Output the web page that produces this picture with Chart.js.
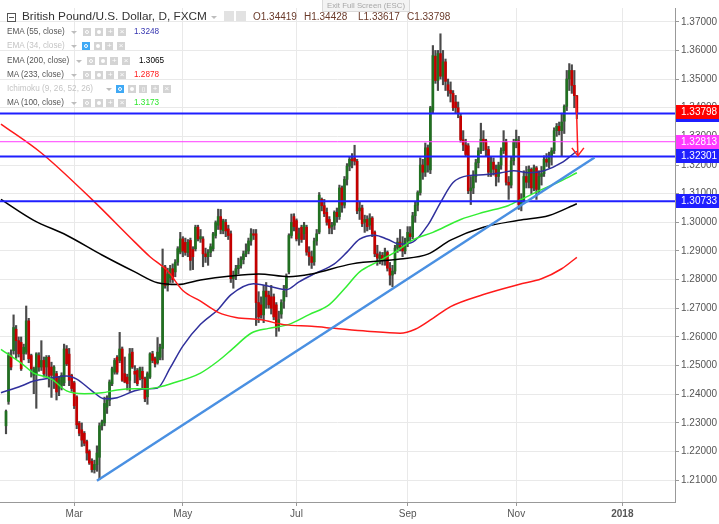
<!DOCTYPE html>
<html>
<head>
<meta charset="utf-8">
<script src="https://cdn.jsdelivr.net/npm/chart.js@4.4.0/dist/chart.umd.min.js"></script>
<style>
  html, body { margin: 0; padding: 0; background: #fff; }
  #wrap { position: relative; width: 719px; height: 524px; overflow: hidden;
          font-family: "Liberation Sans", Arial, sans-serif; }
  #chart { position: absolute; left: 0; top: 0; }
  .t { position: absolute; white-space: nowrap; line-height: 1; }
  .ic { position: absolute; width: 8px; height: 8px; background: #d4d4d4; color: #fff;
        font-size: 8px; line-height: 8px; text-align: center; }
  .ic.on { background: #3fa9f5; }
  .dd { position: absolute; width: 0; height: 0; border-left: 3px solid transparent;
        border-right: 3px solid transparent; border-top: 3px solid #bdbdbd; }
</style>
</head>
<body>
<div id="wrap">
  <canvas id="chart" width="719" height="524"></canvas>
  <div id="hdr"></div>
</div>
<script>
// daily candles, GBP/USD (index 0 = first bar at the left edge)
const opens = [
  1.2290,1.2375,1.2535,1.2552,1.2627,1.2587,1.2581,1.2541,1.2547,1.2656,
  1.2535,1.2466,1.2472,1.2535,1.2495,1.2518,1.2495,1.2529,1.2495,1.2466,
  1.2472,1.2420,1.2431,1.2440,1.2558,1.2540,1.2466,1.2440,1.2391,1.2299,
  1.2276,1.2264,1.2235,1.2201,1.2166,1.2137,1.2155,1.2180,1.2290,1.2300,
  1.2355,1.2379,1.2437,1.2477,1.2529,1.2518,1.2558,1.2472,1.2460,1.2449,
  1.2547,1.2480,1.2483,1.2460,1.2480,1.2454,1.2391,1.2460,1.2541,1.2524,
  1.2510,1.2529,1.2560,1.2844,1.2780,1.2806,1.2838,1.2827,1.2861,1.2896,
  1.2942,1.2930,1.2895,1.2937,1.2905,1.2908,1.2983,1.2942,1.2942,1.2890,
  1.2880,1.2895,1.2908,1.2954,1.2990,1.3020,1.2971,1.3000,1.2977,1.2960,
  1.2804,1.2815,1.2838,1.2850,1.2870,1.2890,1.2900,1.2935,1.2960,1.2960,
  1.2720,1.2712,1.2677,1.2760,1.2746,1.2740,1.2740,1.2712,1.2640,1.2680,
  1.2725,1.2770,1.2827,1.2954,1.3020,1.3006,1.2945,1.2983,1.2960,1.2983,
  1.2896,1.2880,1.2862,1.2935,1.2966,1.3080,1.3058,1.3035,1.3010,1.2985,
  1.2990,1.3035,1.3020,1.3120,1.3060,1.3150,1.3196,1.3220,1.3225,1.3213,
  1.3040,1.3050,1.3000,1.3010,1.2990,1.3015,1.2966,1.2890,1.2875,1.2885,
  1.2870,1.2895,1.2840,1.2816,1.2830,1.2910,1.2931,1.2915,1.2900,1.2935,
  1.2960,1.2950,1.3023,1.3060,1.3104,1.3200,1.3175,1.3260,1.3183,1.3391,
  1.3580,1.3495,1.3589,1.3510,1.3560,1.3480,1.3461,1.3450,1.3420,1.3400,
  1.3370,1.3288,1.3270,1.3267,1.3110,1.3120,1.3160,1.3208,1.3250,1.3290,
  1.3285,1.3254,1.3175,1.3210,1.3185,1.3160,1.3200,1.3250,1.3280,1.3140,
  1.3130,1.3215,1.3280,1.3284,1.3062,1.3080,1.3160,1.3140,1.3185,1.3120,
  1.3190,1.3115,1.3160,1.3170,1.3220,1.3210,1.3230,1.3250,1.3320,1.3335,
  1.3320,1.3353,1.3405,1.3500,1.3530,1.3478,1.34419
];
const highs = [
  1.2345,1.2545,1.2555,1.2677,1.2640,1.2600,1.2600,1.2575,1.2708,1.2665,
  1.2540,1.2495,1.2545,1.2545,1.2587,1.2530,1.2535,1.2535,1.2512,1.2500,
  1.2480,1.2460,1.2475,1.2575,1.2570,1.2560,1.2470,1.2445,1.2395,1.2305,
  1.2300,1.2270,1.2240,1.2206,1.2175,1.2170,1.2220,1.2300,1.2310,1.2390,
  1.2395,1.2450,1.2495,1.2525,1.2535,1.2616,1.2565,1.2530,1.2470,1.2560,
  1.2560,1.2500,1.2490,1.2495,1.2495,1.2460,1.2478,1.2545,1.2550,1.2530,
  1.2598,1.2575,1.2907,1.2850,1.2840,1.2850,1.2855,1.2870,1.2915,1.2965,
  1.2950,1.2945,1.2940,1.2945,1.2915,1.2990,1.2990,1.2975,1.2950,1.2910,
  1.2905,1.2925,1.2965,1.3005,1.3046,1.3045,1.3011,1.3010,1.2990,1.2970,
  1.2830,1.2850,1.2875,1.2880,1.2900,1.2925,1.2945,1.2978,1.2975,1.2975,
  1.2758,1.2740,1.2780,1.2790,1.2760,1.2780,1.2750,1.2720,1.2690,1.2730,
  1.2780,1.2820,1.2960,1.3029,1.3030,1.3012,1.2980,1.2990,1.3000,1.2990,
  1.2915,1.2900,1.2945,1.2975,1.3104,1.3085,1.3080,1.3050,1.3020,1.3000,
  1.3040,1.3050,1.3130,1.3127,1.3160,1.3205,1.3230,1.3240,1.3269,1.3220,
  1.3070,1.3060,1.3025,1.3023,1.3030,1.3020,1.2970,1.2920,1.2897,1.2895,
  1.2910,1.2900,1.2860,1.2850,1.2920,1.2945,1.2975,1.2950,1.2945,1.2985,
  1.2985,1.3035,1.3070,1.3110,1.3225,1.3220,1.3277,1.3270,1.3405,1.3617,
  1.3600,1.3600,1.3658,1.3600,1.3570,1.3500,1.3490,1.3460,1.3443,1.3420,
  1.3380,1.3320,1.3290,1.3275,1.3160,1.3180,1.3220,1.3260,1.3346,1.3320,
  1.3290,1.3265,1.3230,1.3225,1.3200,1.3210,1.3260,1.3320,1.3290,1.3160,
  1.3230,1.3290,1.3322,1.3300,1.3100,1.3180,1.3195,1.3197,1.3190,1.3200,
  1.3195,1.3180,1.3195,1.3232,1.3240,1.3245,1.3260,1.3330,1.3345,1.3350,
  1.3381,1.3410,1.3530,1.3554,1.3550,1.3530,1.34428
];
const lows = [
  1.2262,1.2365,1.2485,1.2540,1.2525,1.2530,1.2483,1.2520,1.2540,1.2510,
  1.2460,1.2402,1.2351,1.2480,1.2483,1.2460,1.2460,1.2425,1.2389,1.2420,
  1.2380,1.2395,1.2415,1.2430,1.2500,1.2430,1.2410,1.2350,1.2280,1.2255,
  1.2218,1.2220,1.2170,1.2155,1.2128,1.2125,1.2131,1.2103,1.2275,1.2290,
  1.2333,1.2360,1.2430,1.2470,1.2470,1.2510,1.2445,1.2440,1.2415,1.2410,
  1.2490,1.2440,1.2430,1.2450,1.2420,1.2374,1.2365,1.2455,1.2510,1.2495,
  1.2505,1.2520,1.2520,1.2770,1.2760,1.2790,1.2790,1.2810,1.2850,1.2890,
  1.2880,1.2885,1.2880,1.2833,1.2835,1.2900,1.2935,1.2930,1.2845,1.2860,
  1.2850,1.2880,1.2900,1.2945,1.2975,1.2960,1.2960,1.2950,1.2940,1.2790,
  1.2770,1.2800,1.2820,1.2840,1.2855,1.2880,1.2890,1.2920,1.2940,1.2640,
  1.2650,1.2665,1.2650,1.2700,1.2700,1.2680,1.2660,1.2602,1.2620,1.2665,
  1.2700,1.2740,1.2820,1.2945,1.2970,1.2935,1.2920,1.2930,1.2940,1.2885,
  1.2850,1.2839,1.2850,1.2920,1.2960,1.3040,1.3020,1.2990,1.2960,1.2960,
  1.2975,1.3000,1.3010,1.3035,1.3050,1.3130,1.3180,1.3190,1.3200,1.3030,
  1.3010,1.2985,1.2965,1.2970,1.2975,1.2950,1.2880,1.2850,1.2855,1.2851,
  1.2850,1.2830,1.2781,1.2775,1.2820,1.2895,1.2900,1.2880,1.2890,1.2915,
  1.2935,1.2943,1.3000,1.3040,1.3095,1.3150,1.3160,1.3175,1.3170,1.3380,
  1.3485,1.3460,1.3500,1.3480,1.3460,1.3440,1.3420,1.3390,1.3380,1.3365,
  1.3280,1.3250,1.3230,1.3100,1.3062,1.3100,1.3140,1.3190,1.3240,1.3250,
  1.3230,1.3160,1.3160,1.3165,1.3127,1.3140,1.3185,1.3240,1.3130,1.3080,
  1.3120,1.3200,1.3260,1.3045,1.3040,1.3070,1.3120,1.3120,1.3100,1.3110,
  1.3080,1.3100,1.3130,1.3160,1.3195,1.3190,1.3200,1.3240,1.3300,1.3305,
  1.3232,1.3310,1.3390,1.3460,1.3450,1.3400,1.33617
];
const closes = [
  1.2340,1.2535,1.2495,1.2633,1.2587,1.2541,1.2489,1.2564,1.2656,1.2524,
  1.2489,1.2489,1.2541,1.2495,1.2518,1.2472,1.2529,1.2466,1.2466,1.2495,
  1.2408,1.2449,1.2466,1.2558,1.2506,1.2449,1.2420,1.2360,1.2293,1.2264,
  1.2240,1.2229,1.2195,1.2160,1.2137,1.2155,1.2195,1.2290,1.2304,1.2368,
  1.2379,1.2443,1.2489,1.2518,1.2477,1.2558,1.2449,1.2443,1.2437,1.2541,
  1.2495,1.2470,1.2437,1.2489,1.2454,1.2385,1.2472,1.2541,1.2518,1.2506,
  1.2547,1.2564,1.2844,1.2780,1.2820,1.2838,1.2800,1.2861,1.2908,1.2942,
  1.2900,1.2895,1.2930,1.2867,1.2880,1.2983,1.2942,1.2950,1.2890,1.2880,
  1.2895,1.2915,1.2960,1.2999,1.3020,1.2975,1.3005,1.2970,1.2954,1.2804,
  1.2815,1.2838,1.2850,1.2870,1.2890,1.2900,1.2935,1.2960,1.2955,1.2720,
  1.2670,1.2677,1.2760,1.2740,1.2712,1.2700,1.2670,1.2631,1.2660,1.2720,
  1.2760,1.2810,1.2954,1.3000,1.2985,1.2942,1.2960,1.2940,1.2990,1.2896,
  1.2880,1.2860,1.2935,1.2960,1.3095,1.3058,1.3030,1.3000,1.2980,1.2990,
  1.3035,1.3020,1.3120,1.3060,1.3150,1.3196,1.3220,1.3215,1.3213,1.3040,
  1.3050,1.2995,1.3010,1.2985,1.3015,1.2960,1.2890,1.2875,1.2885,1.2870,
  1.2895,1.2840,1.2816,1.2830,1.2910,1.2931,1.2915,1.2900,1.2935,1.2965,
  1.2950,1.3023,1.3060,1.3104,1.3200,1.3175,1.3260,1.3200,1.3400,1.3582,
  1.3495,1.3589,1.3510,1.3560,1.3492,1.3461,1.3450,1.3400,1.3400,1.3381,
  1.3288,1.3270,1.3237,1.3110,1.3120,1.3160,1.3208,1.3250,1.3290,1.3280,
  1.3254,1.3175,1.3210,1.3185,1.3160,1.3200,1.3250,1.3280,1.3140,1.3130,
  1.3215,1.3280,1.3290,1.3062,1.3080,1.3160,1.3140,1.3185,1.3120,1.3190,
  1.3115,1.3160,1.3170,1.3220,1.3210,1.3230,1.3250,1.3320,1.3335,1.3320,
  1.3350,1.3405,1.3500,1.3530,1.3478,1.3442,1.33798
];

// time axis (bar index) and price axis
const xMin = -2.375, xMax = 264.85;
const monthIdx = [27, 70, 115, 159, 202, 244];
const monthLbl = ['Mar', 'May', 'Jul', 'Sep', 'Nov', '2018'];
const yMin = 1.2024, yMax = 1.3748;
const yTicks = [1.21, 1.22, 1.23, 1.24, 1.25, 1.26, 1.27, 1.28, 1.29,
                1.30, 1.31, 1.32, 1.33, 1.34, 1.35, 1.36, 1.37];

// indicator lines at sample bars
const ema55Idx = [-2, 6, 11, 18, 24, 28, 34, 39, 44, 51, 56, 60, 65, 70, 77, 84, 89, 98, 105, 111,
                  116, 122, 130, 135, 140, 146, 151, 156, 161, 167, 172, 177, 183, 189, 196, 201, 207, 213, 220, 225, 226];
const ema55Val = [1.2405, 1.2429, 1.2446, 1.2457, 1.2464, 1.2453, 1.2412, 1.2384, 1.2388, 1.2412, 1.2419, 1.2422,
                  1.2492, 1.2568, 1.2644, 1.2696, 1.2747, 1.2786, 1.2775, 1.2765, 1.2792, 1.2820, 1.2855, 1.2896,
                  1.2941, 1.2955, 1.2941, 1.2924, 1.2931, 1.2990, 1.3069, 1.3139, 1.3163, 1.3166, 1.3173, 1.3180,
                  1.3173, 1.3180, 1.3208, 1.3242, 1.3248];
const ema200Idx = [-2, 11, 24, 38, 51, 60, 68, 77, 89, 100, 112, 121, 137, 156, 167, 176, 189, 203, 215, 226];
const ema200Val = [1.3080, 1.3007, 1.2955, 1.2886, 1.2827, 1.2789, 1.2783, 1.2799, 1.2813, 1.2820, 1.2810, 1.2820,
                   1.2855, 1.2872, 1.2889, 1.2938, 1.2983, 1.3007, 1.3024, 1.3065];
const ma233Idx = [-2, 14, 34, 51, 57, 64, 70, 77, 84, 91, 101, 110, 121, 130, 143, 156, 162, 169, 176, 189, 203, 212, 220, 226];
const ma233Val = [1.3343, 1.3242, 1.3080, 1.2931, 1.2880, 1.2830, 1.2762, 1.2725, 1.2686, 1.2668, 1.2660, 1.2643,
                  1.2637, 1.2630, 1.2620, 1.2613, 1.2627, 1.2665, 1.2706, 1.2748, 1.2783, 1.2803, 1.2838, 1.2878];
const ma100Idx = [-2, 6, 11, 18, 24, 31, 38, 44, 51, 56, 61, 65, 77, 84, 90, 97, 104, 112, 120, 128, 134, 140,
                  147, 154, 161, 169, 180, 189, 199, 204, 212, 220, 226];
const ma100Val = [1.2557, 1.2509, 1.2474, 1.2453, 1.2412, 1.2402, 1.2405, 1.2415, 1.2419, 1.2419, 1.2426, 1.2436,
                  1.2474, 1.2516, 1.2561, 1.2613, 1.2630, 1.2644, 1.2678, 1.2713, 1.2768, 1.2827, 1.2862, 1.2896,
                  1.2938, 1.2965, 1.3010, 1.3035, 1.3059, 1.3080, 1.3114, 1.3146, 1.3173];

// drawings
const levelVals = [1.33798, 1.32813, 1.32301, 1.30733];
const levelLine = ['#1f1fff', '#ff3cff', '#1f1fff', '#1f1fff'];
const levelTag = ['#ff0000', '#ff3cff', '#1f1fff', '#1f1fff'];
const trendIdx = [36, 233];
const trendVal = [1.2098, 1.3226];
const arrowIdx = [225.7, 226.4];
const arrowVal = [1.3440, 1.3232];

const upColor = '#217021';
const downColor = '#c40000';
const FONT = '"Liberation Sans", Arial, sans-serif';

const pts = (ix, vs) => ix.map((x, k) => ({ x, y: vs[k] }));
const maLine = (data, color, width) => ({
  type: 'line', data, borderColor: color, borderWidth: width, pointRadius: 0,
  cubicInterpolationMode: 'monotone', fill: false, order: 2,
});

const datasets = [
  {
    type: 'bar', order: 21, grouped: false, barThickness: 1.5,
    data: opens.map((o, k) => ({ x: k, y: [lows[k], highs[k]] })),
    backgroundColor: '#4a4a4a',
  },
  {
    type: 'bar', order: 20, grouped: false, barThickness: 2,
    data: opens.map((o, k) => ({ x: k, y: [o, closes[k]] })),
    backgroundColor: opens.map((o, k) => (closes[k] >= o ? upColor : downColor)),
  },
  maLine(pts(ma233Idx, ma233Val), '#ff1a1a', 1.5),
  maLine(pts(ema200Idx, ema200Val), '#000000', 1.5),
  maLine(pts(ma100Idx, ma100Val), '#33ee33', 1.5),
  maLine(pts(ema55Idx, ema55Val), '#30309c', 1.5),
  {
    type: 'line', order: 1, data: pts(trendIdx, trendVal), borderColor: '#4a90e2',
    borderWidth: 2.5, pointRadius: 0, fill: false,
  },
];
levelVals.forEach((v, k) => {
  datasets.push({
    type: 'line', order: 1, data: [{ x: xMin, y: v }, { x: xMax, y: v }],
    borderColor: levelLine[k], borderWidth: levelLine[k] === '#ff3cff' ? 1 : 2,
    pointRadius: 0, fill: false,
  });
});

// arrow + coloured price tags on the right scale
const overlay = {
  id: 'overlay',
  afterDraw(chart) {
    const { ctx, chartArea, scales: { x, y } } = chart;
    ctx.save();
    const ax0 = x.getPixelForValue(arrowIdx[0]), ay0 = y.getPixelForValue(arrowVal[0]);
    const ax1 = x.getPixelForValue(arrowIdx[1]), ay1 = y.getPixelForValue(arrowVal[1]);
    ctx.strokeStyle = '#ff2020';
    ctx.lineWidth = 1.5;
    ctx.beginPath();
    ctx.moveTo(ax0, ay0); ctx.lineTo(ax1, ay1);
    ctx.moveTo(ax1 - 6, ay1 - 8); ctx.lineTo(ax1, ay1); ctx.lineTo(ax1 + 6, ay1 - 8);
    ctx.stroke();

    ctx.font = '10px ' + FONT;
    ctx.textBaseline = 'middle';
    levelVals.forEach((v, k) => {
      const py = Math.round(y.getPixelForValue(v));
      if (k === 0) {
        ctx.fillStyle = levelLine[0];
        ctx.fillRect(chartArea.right + 1, py - 4, 44, 12);
        ctx.fillStyle = levelTag[0];
        ctx.fillRect(chartArea.right + 1, py - 9, 44, 14);
        ctx.fillStyle = '#fff';
        ctx.fillText(v.toFixed(5), chartArea.right + 6, py - 2);
      } else {
        ctx.fillStyle = levelTag[k];
        ctx.fillRect(chartArea.right + 1, py - 7, 44, 14);
        ctx.fillStyle = '#fff';
        ctx.fillText(v.toFixed(5), chartArea.right + 6, py + 0.5);
      }
    });
    ctx.restore();
  },
};

new Chart(document.getElementById('chart'), {
  type: 'bar',
  data: { datasets },
  options: {
    responsive: false,
    animation: false,
    events: [],
    layout: { padding: { top: 4, left: 0, right: 0, bottom: 0 }, autoPadding: false },
    plugins: { legend: { display: false }, tooltip: { enabled: false } },
    scales: {
      x: {
        type: 'linear', min: xMin, max: xMax, offset: false,
        afterFit: (s) => { s.height = 22; },
        afterBuildTicks: (s) => { s.ticks = monthIdx.map((v) => ({ value: v })); },
        grid: { offset: false, color: '#e9e9e9', tickColor: '#999', tickLength: 4 },
        border: { color: '#999' },
        ticks: {
          autoSkip: false, maxRotation: 0, padding: 2, color: '#555',
          callback: (v) => monthLbl[monthIdx.indexOf(v)],
          font: (c) => ({ family: FONT, size: 10,
            weight: c.tick && c.tick.value === 244 ? 'bold' : 'normal' }),
        },
      },
      y: {
        type: 'linear', position: 'right', min: yMin, max: yMax,
        afterFit: (s) => { s.width = 44; },
        afterBuildTicks: (s) => { s.ticks = yTicks.map((v) => ({ value: v })); },
        grid: { color: '#e9e9e9', tickColor: '#999', tickLength: 4 },
        border: { color: '#999' },
        ticks: {
          autoSkip: false, padding: 2, color: '#555', font: { family: FONT, size: 10 },
          callback: (v) => v.toFixed(5),
        },
      },
    },
  },
  plugins: [overlay],
});

// header: title, OHLC and indicator legend (plain DOM text)
const hdr = document.getElementById('hdr');
function add(html, cls, style) {
  const d = document.createElement('div');
  d.className = cls;
  d.style.cssText = style;
  d.innerHTML = html;
  hdr.appendChild(d);
  return d;
}
add('', 't', 'left:7px;top:13px;width:7px;height:7px;border:1px solid #555;');
add('', 't', 'left:9px;top:16.5px;width:5px;height:1px;background:#555;');
add('British Pound/U.S. Dollar, D, FXCM', 't', 'left:22px;top:11px;font-size:11.8px;color:#333;');
add('', 'dd', 'left:211px;top:16px;');
add('', 'ic', 'left:224px;top:11px;width:10px;height:10px;background:#e2e2e2;');
add('', 'ic', 'left:236px;top:11px;width:10px;height:10px;background:#e2e2e2;');
const ohlc = [['O1.34419', 253], ['H1.34428', 304], ['L1.33617', 358], ['C1.33798', 407]];
ohlc.forEach(([s, x]) => add(s, 't', `left:${x}px;top:12px;font-size:10px;color:#6a3a2a;`));
add('Exit Full Screen (ESC)', 't',
  'left:322px;top:-1px;width:86px;height:11px;line-height:11px;text-align:center;font-size:7.8px;' +
  'color:#a8a8a8;background:#f3f3f3;border:1px solid #dadada;');

const rows = [
  { y: 32, name: 'EMA (55, close)', on: true, dd: 71, ix: 83, val: '1.3248', vx: 134, vc: '#3535b0' },
  { y: 46, name: 'EMA (34, close)', on: false, dd: 71, ix: 82, blue: true },
  { y: 61, name: 'EMA (200, close)', on: true, dd: 76, ix: 87, val: '1.3065', vx: 139, vc: '#000' },
  { y: 75, name: 'MA (233, close)', on: true, dd: 71, ix: 83, val: '1.2878', vx: 134, vc: '#ff1a1a' },
  { y: 89, name: 'Ichimoku (9, 26, 52, 26)', on: false, dd: 106, ix: 116, blue: true, five: true },
  { y: 103, name: 'MA (100, close)', on: true, dd: 71, ix: 83, val: '1.3173', vx: 134, vc: '#2ee62e' },
];
rows.forEach((r) => {
  add(r.name, 't', `left:7px;top:${r.y - 4.5}px;font-size:8.2px;color:${r.on ? '#555' : '#c4c4c4'};`);
  add('', 'dd', `left:${r.dd}px;top:${r.y - 1}px;`);
  const glyphs = r.five ? ['o', 'g', '()', '+', '×'] : ['o', 'g', '+', '×'];
  glyphs.forEach((g, k) => {
    const on = r.blue && k === 0;
    let inner = g;
    if (g === 'o') inner = '<div style="margin:2px;width:2px;height:2px;border:1px solid #fff;border-radius:3px"></div>';
    if (g === 'g') inner = '<div style="margin:2px;width:4px;height:4px;background:#fff;border-radius:2px"></div>';
    add(inner, 'ic' + (on ? ' on' : ''), `left:${r.ix + k * 11.7}px;top:${r.y - 4}px;font-size:${g === '()' ? 5 : 8}px;`);
  });
  if (r.val) add(r.val, 't', `left:${r.vx}px;top:${r.y - 4.5}px;font-size:8.2px;color:${r.vc};`);
});
</script>
</body>
</html>
